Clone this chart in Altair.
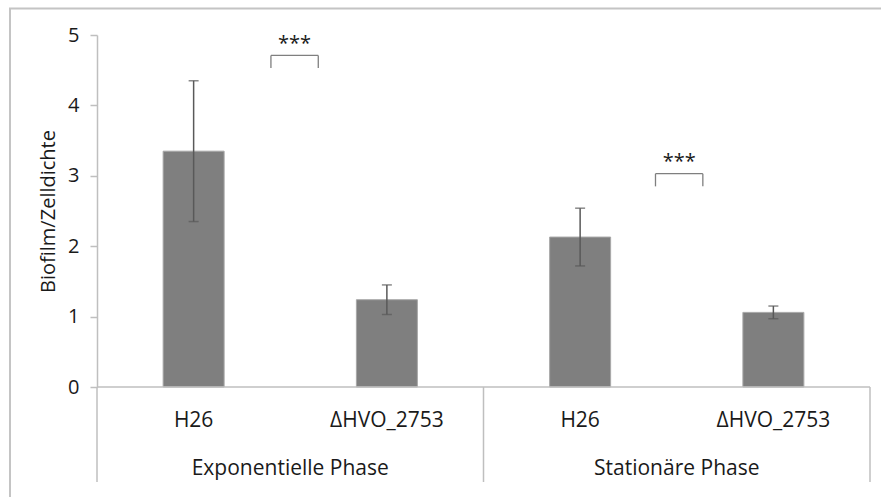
import altair as alt
import pandas as pd

# ---- data ----
strains = ["H26", "ΔHVO_2753", "H26", "ΔHVO_2753"]
phases = ["Exponentielle Phase", "Stationäre Phase"]
xpos = [0.5, 1.5, 2.5, 3.5]
values = [3.35, 1.24, 2.13, 1.06]
errors = [1.00, 0.21, 0.41, 0.09]

group_centers = [1.0, 3.0]
separators = [0, 2, 4]

bracket_x1 = [0.90, 2.89]
bracket_x2 = [1.145, 3.135]
bracket_top = [4.71, 3.03]
bracket_bottom = [4.53, 2.85]
star_y = [4.87, 3.20]
star_text = ["***", "***"]

FONT = "Open Sans"
TXT = "#1a1a1a"
LINE = "#bfbfbf"

bars = pd.DataFrame({"x": xpos, "v": values, "lo": [v - e for v, e in zip(values, errors)],
                     "hi": [v + e for v, e in zip(values, errors)], "strain": strains})
groups = pd.DataFrame({"x": group_centers, "phase": phases})
seps = pd.DataFrame({"x": separators})
br = pd.DataFrame({"x1": bracket_x1, "x2": bracket_x2, "top": bracket_top,
                   "bot": bracket_bottom, "sy": star_y, "t": star_text,
                   "xc": [(a + b) / 2 for a, b in zip(bracket_x1, bracket_x2)]})
base_line = pd.DataFrame({"x1": [separators[0]], "x2": [separators[-1]], "y": [0]})

xs = alt.Scale(domain=[0, 4], nice=False, zero=False, padding=0)
ys = alt.Scale(domain=[0, 5], nice=False)

X = lambda f: alt.X(f, type="quantitative", scale=xs, axis=None)

bar = alt.Chart(bars).mark_bar(size=61, color="#7f7f7f", stroke="#a8a8a8", strokeWidth=1).encode(
    x=X("x"),
    y=alt.Y("v:Q", scale=ys, axis=alt.Axis(
        values=[0, 1, 2, 3, 4, 5], format="d", title="Biofilm/Zelldichte", grid=False,
        domainColor=LINE, domainWidth=1.5, tickColor=LINE, tickSize=7, tickWidth=1.5,
        labelFont=FONT, labelFontSize=20, labelColor=TXT, labelPadding=11,
        titleFont=FONT, titleFontSize=20, titleFontWeight="normal", titleColor=TXT,
        titleX=-49, titleY=176, titleAngle=270, titleAlign="center", titleBaseline="middle")),
)

err = alt.Chart(bars).mark_rule(color="#595959", strokeWidth=1.5).encode(
    x=X("x"), y=alt.Y("lo:Q", scale=ys), y2="hi:Q")
cap_hi = alt.Chart(bars).mark_tick(orient="horizontal", size=10, thickness=1.5, color="#595959").encode(
    x=X("x"), y=alt.Y("hi:Q", scale=ys))
cap_lo = alt.Chart(bars).mark_tick(orient="horizontal", size=10, thickness=1.5, color="#595959").encode(
    x=X("x"), y=alt.Y("lo:Q", scale=ys))

xline = alt.Chart(base_line).mark_rule(color=LINE, strokeWidth=1.5).encode(
    x=X("x1"), x2="x2", y=alt.Y("y:Q", scale=ys))

sep = alt.Chart(seps).mark_rule(color=LINE, strokeWidth=1.5).encode(
    x=X("x"), y=alt.value(352), y2=alt.value(447))

strain_lbl = alt.Chart(bars).mark_text(font=FONT, fontSize=21, color=TXT, baseline="middle").encode(
    x=X("x"), y=alt.value(386), text="strain:N")
phase_lbl = alt.Chart(groups).mark_text(font=FONT, fontSize=21, color=TXT, baseline="middle").encode(
    x=X("x"), y=alt.value(434), text="phase:N")

b_h = alt.Chart(br).mark_rule(color="#7f7f7f", strokeWidth=1.3).encode(
    x=X("x1"), x2="x2", y=alt.Y("top:Q", scale=ys))
b_l = alt.Chart(br).mark_rule(color="#7f7f7f", strokeWidth=1.3).encode(
    x=X("x1"), y=alt.Y("top:Q", scale=ys), y2="bot:Q")
b_r = alt.Chart(br).mark_rule(color="#7f7f7f", strokeWidth=1.3).encode(
    x=X("x2"), y=alt.Y("top:Q", scale=ys), y2="bot:Q")
stars = alt.Chart(br).mark_text(font=FONT, fontSize=20, color=TXT, baseline="middle").encode(
    x=X("xc"), y=alt.Y("sy:Q", scale=ys), text="t:N")

frame_left = alt.Chart(seps.head(1)).mark_rule(color="#c4c4c4", strokeWidth=2).encode(
    x=alt.value(-87), y=alt.value(-26.5), y2=alt.value(470))
frame_top = alt.Chart(seps.head(1)).mark_rule(color="#c4c4c4", strokeWidth=2).encode(
    x=alt.value(-88), x2=alt.value(800), y=alt.value(-26.5))

chart = alt.layer(frame_left, frame_top, sep, bar, xline, err, cap_hi, cap_lo,
                  strain_lbl, phase_lbl, b_h, b_l, b_r, stars).properties(
    width=773, height=352,
    autosize=alt.AutoSizeParams(type="none"),
    padding={"left": 97, "top": 35, "right": 11, "bottom": 110},
    background="white",
).configure_view(stroke=None)

chart.save("out.html", embed_options={"renderer": "svg", "actions": False})
